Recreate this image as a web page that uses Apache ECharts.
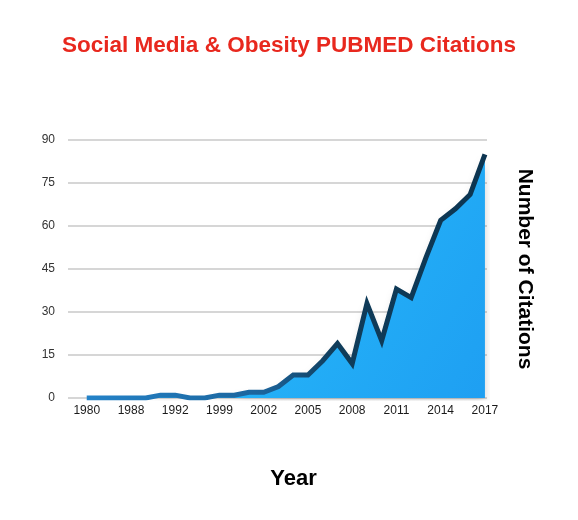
<!DOCTYPE html>
<html>
<head>
<meta charset="utf-8">
<script src="https://cdn.jsdelivr.net/npm/echarts@6/dist/echarts.min.js"></script>
<style>
html,body{margin:0;padding:0;background:#fff;}
#chart{width:578px;height:520px;}
</style>
</head>
<body>
<div id="chart"></div>
<script>
// Data
var years = ['1980','1984','1986','1988','1990','1991','1992','1995','1997','1999','2000','2001','2002','2003','2004','2005','2006','2007','2008','2009','2010','2011','2012','2013','2014','2015','2016','2017'];
var citations = [0,0,0,0,0,1,1,0,0,1,1,2,2,4,8,8,13,19,12,33,20,38,35,49,62,66,71,85];
var yTicks = [0,15,30,45,60,75,90];
var labelIdx = [0,3,6,9,12,15,18,21,24,27];

var points = citations.map(function(v, i){ return [i, v]; });

var chart = echarts.init(document.getElementById('chart'));
chart.setOption({
  animation: false,
  backgroundColor: '#ffffff',
  title: {
    text: 'Social Media & Obesity PUBMED Citations',
    left: 'center',
    top: 29,
    padding: [5, 11, 5, 5],
    textStyle: { color: '#e8281e', fontSize: 22.5, fontWeight: 'bold', fontFamily: 'Liberation Sans, Arial, sans-serif' }
  },
  grid: { left: 68, right: 91, top: 140, bottom: 122, containLabel: false },
  xAxis: {
    type: 'value',
    min: -1.27,
    max: 27.14,
    name: 'Year',
    nameLocation: 'middle',
    nameGap: 70,
    nameTextStyle: { color: '#000', fontSize: 22, fontWeight: 'bold', fontFamily: 'Liberation Sans, Arial, sans-serif', padding: [0,0,0,32] },
    axisLine: { show: false },
    axisTick: { show: false },
    splitLine: { show: false },
    axisLabel: {
      customValues: labelIdx,
      formatter: function(v){ return years[Math.round(v)]; },
      color: '#1a1a1a', fontSize: 12, margin: 7,
      fontFamily: 'Liberation Sans, Arial, sans-serif'
    }
  },
  yAxis: [{
    type: 'value',
    min: 0, max: 90, interval: 15,
    axisLine: { show: false },
    axisTick: { show: false },
    axisLabel: { color: '#333', fontSize: 12, margin: 13, fontFamily: 'Liberation Sans, Arial, sans-serif',
      formatter: function(v){ return yTicks.indexOf(v) >= 0 ? String(v) : ''; } },
    splitLine: { show: true, lineStyle: { color: '#c9c9c9', width: 1.5 } }
  }, {
    type: 'value',
    position: 'right',
    min: 0, max: 90,
    name: 'Number of Citations',
    nameLocation: 'middle',
    nameRotate: -90,
    nameGap: 27,
    nameTextStyle: { color: '#000', fontSize: 21, fontWeight: 'bold', fontFamily: 'Liberation Sans, Arial, sans-serif' },
    axisLine: { show: false },
    axisTick: { show: false },
    axisLabel: { show: false },
    splitLine: { show: false }
  }],
  series: [{
    type: 'line',
    data: points,
    symbol: 'none',
    smooth: false,
    lineStyle: {
      width: 5,
      join: 'miter',
      miterLimit: 6,
      color: {
        type: 'linear', x: 0, y: 0, x2: 1, y2: 0,
        colorStops: [
          { offset: 0, color: '#2483c9' },
          { offset: 0.45, color: '#1b639a' },
          { offset: 0.62, color: '#103d5b' },
          { offset: 1, color: '#0c3450' }
        ]
      }
    },
    areaStyle: {
      opacity: 1,
      color: {
        type: 'linear', x: 0, y: 0, x2: 1, y2: 1,
        colorStops: [
          { offset: 0, color: '#2bc6fe' },
          { offset: 1, color: '#1e9ff2' }
        ]
      },
      shadowColor: 'rgba(0,0,0,0.18)',
      shadowBlur: 8,
      shadowOffsetY: 4
    }
  }]
});
</script>
</body>
</html>
